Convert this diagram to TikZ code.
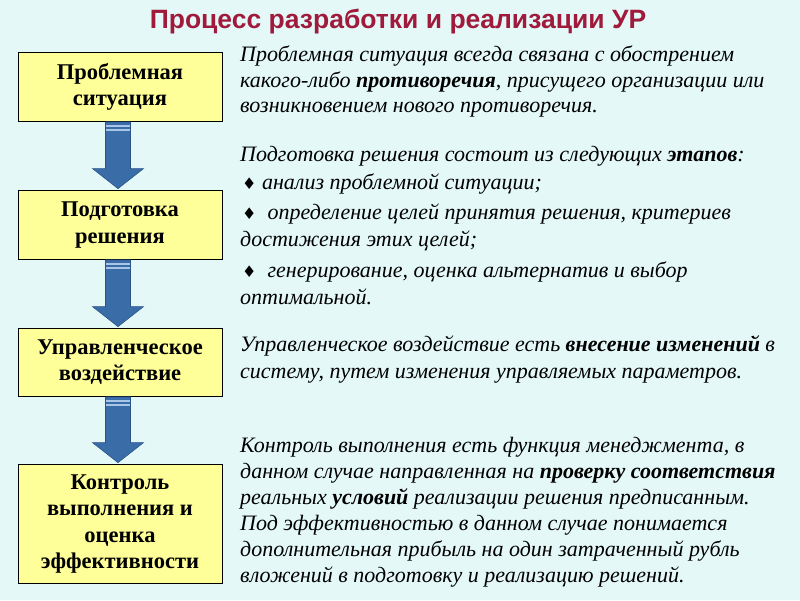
\documentclass[tikz,border=0pt]{standalone}
\usepackage{fontspec}
\setmainfont{Liberation Serif}
\newfontfamily\titlefont{Liberation Sans}
\newfontfamily\symfont{DejaVu Sans}
\usetikzlibrary{calc}
\definecolor{bgc}{HTML}{E4F8F8}
\definecolor{boxc}{HTML}{FFFF99}
\definecolor{arrc}{HTML}{3A6CA8}
\definecolor{arrd}{HTML}{2A5488}
\definecolor{stripec}{HTML}{A9C6E6}
\definecolor{titlec}{HTML}{A01A3C}
\tikzset{
  stage/.style={draw=black, line width=0.8pt, fill=boxc, minimum width=204pt,
    inner sep=0pt, align=center, font=\bfseries\fontsize{22.5}{26.5}\selectfont},
  desc/.style={anchor=base west, inner sep=0pt, font=\itshape\fontsize{22}{24}\selectfont},
  flow/.style={fill=arrc, draw=arrd, line width=0.6pt},
  stripeline/.style={draw=stripec, line width=1.2pt},
}
\newcommand\bul{{\symfont\fontsize{16}{16}\selectfont ♦}}
\newcommand\flowarrow[2]{%
  \path[flow] let \p1=(#1.south), \p2=(#2.north) in
    ({\x1-14.5pt},{\y1-0.4pt}) -- ({\x1+10.5pt},{\y1-0.4pt}) -- ({\x1+10.5pt},{\y2+21pt})
    -- ({\x1+23.5pt},{\y2+21pt}) -- ({\x1-2pt},{\y2+1pt}) -- ({\x1-27.5pt},{\y2+21pt})
    -- ({\x1-14.5pt},{\y2+21pt}) -- cycle;
  \path[stripeline] let \p1=(#1.south) in
    ({\x1-14.2pt},{\y1-4.5pt}) -- ({\x1+10.2pt},{\y1-4.5pt})
    ({\x1-14.2pt},{\y1-8.5pt}) -- ({\x1+10.2pt},{\y1-8.5pt});
}
\begin{document}
\begin{tikzpicture}[x=1pt,y=-1pt]
\useasboundingbox (0,0) rectangle (800,600);
\fill[bgc] (0,0) rectangle (800,600);
\node[font=\titlefont\bfseries\fontsize{26.5}{26.5}\selectfont, text=titlec, anchor=base, inner sep=0pt]
  (title) at (398,28) {Процесс разработки и реализации УР};

\node[stage, minimum height=69pt, text depth=4pt] (b1) at (120,86.5) {Проблемная\\ситуация};
\node[stage, minimum height=69pt, text depth=4pt] (b2) at (120,224.5) {Подготовка\\решения};
\node[stage, minimum height=68pt, text depth=4pt] (b3) at (120,362) {Управленческое\\воздействие};
\node[stage, minimum height=119pt, text depth=4pt] (b4) at (120,523.5) {Контроль\\выполнения и\\оценка\\эффективности};

\flowarrow{b1}{b2}
\flowarrow{b2}{b3}
\flowarrow{b3}{b4}

\node[desc] (p1a) at (240,61) {Проблемная ситуация всегда связана с обострением};
\node[desc] (p1b) at (240,87) {какого-либо \textbf{противоречия}, присущего организации или};
\node[desc] (p1c) at (240,112) {возникновением нового противоречия.};

\node[desc] (p2a) at (240,161) {Подготовка решения состоит из следующих \textbf{этапов}:};
\node[desc] (p2b) at (242,189) {\bul\ анализ проблемной ситуации;};
\node[desc] (p2c) at (242,219) {\bul\ \ определение целей принятия решения, критериев};
\node[desc] (p2d) at (240,246) {достижения этих целей;};
\node[desc] (p2e) at (242,277) {\bul\ \ генерирование, оценка альтернатив и выбор};
\node[desc] (p2f) at (240,304) {оптимальной.};

\node[desc] (p3a) at (240,351) {Управленческое воздействие есть \textbf{внесение изменений} в};
\node[desc] (p3b) at (240,378) {систему, путем изменения управляемых параметров.};

\node[desc] (p4a) at (240,452) {Контроль выполнения есть функция менеджмента, в};
\node[desc] (p4b) at (240,478) {данном случае направленная на \textbf{проверку соответствия}};
\node[desc] (p4c) at (240,504) {реальных \textbf{условий} реализации решения предписанным.};
\node[desc] (p4d) at (240,530) {Под эффективностью в данном случае понимается};
\node[desc] (p4e) at (240,556) {дополнительная прибыль на один затраченный рубль};
\node[desc] (p4f) at (240,582) {вложений в подготовку и реализацию решений.};
\end{tikzpicture}
\end{document}
